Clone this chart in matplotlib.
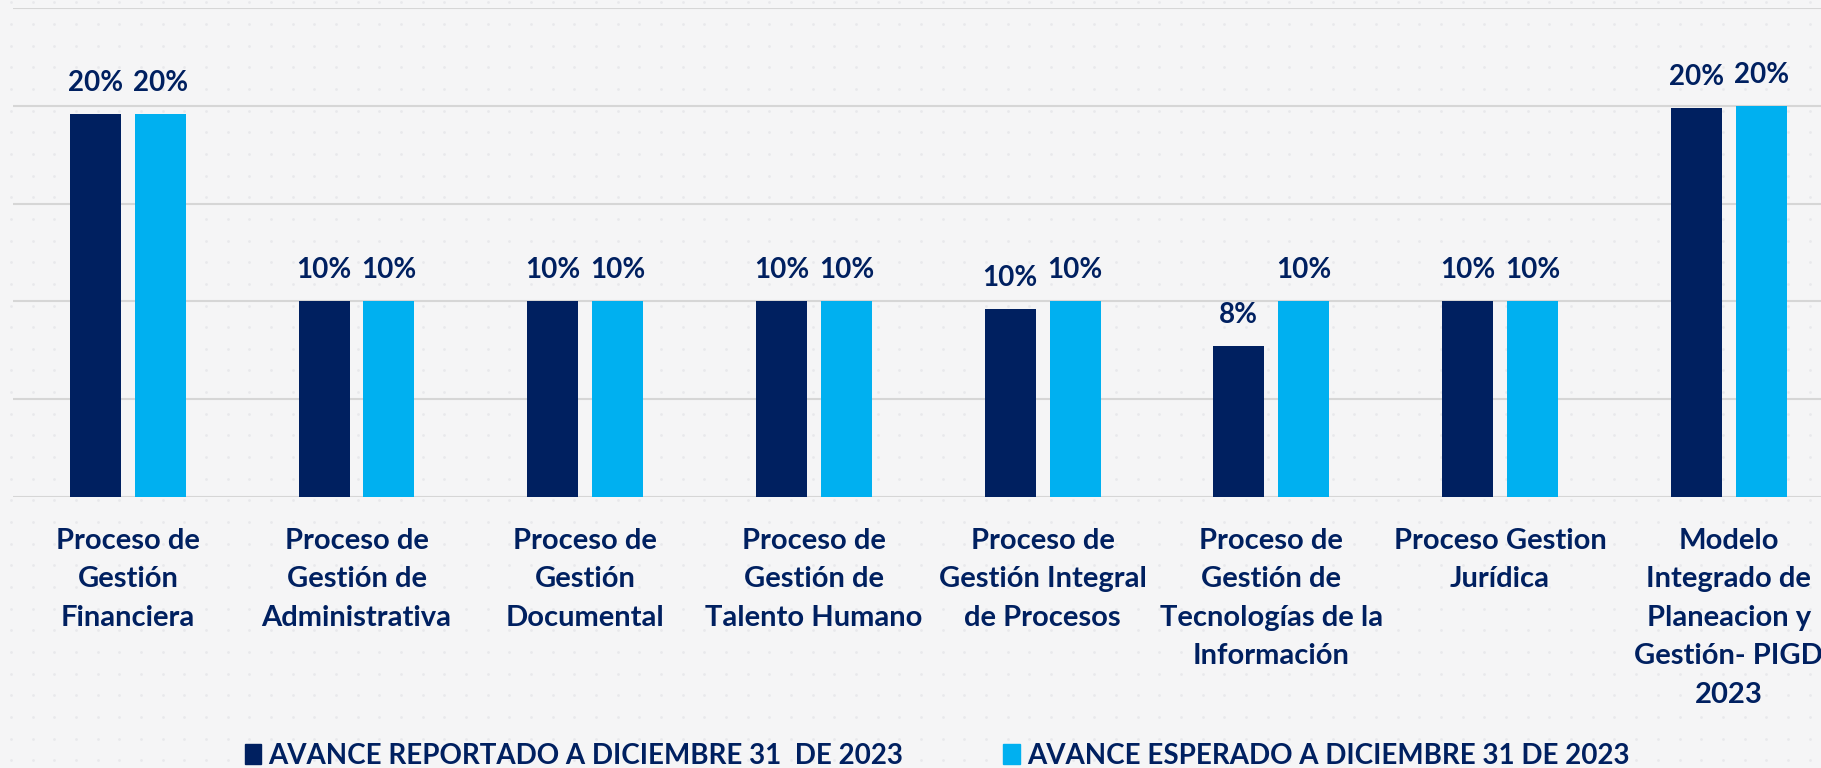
import matplotlib.pyplot as plt
import matplotlib.patches as mpatches
import numpy as np

plt.rcParams['font.family'] = ['Lato', 'DejaVu Sans']

categories = ['Proceso de\nGestión\nFinanciera',
              'Proceso de\nGestión de\nAdministrativa',
              'Proceso de\nGestión\nDocumental',
              'Proceso de\nGestión de\nTalento Humano',
              'Proceso de\nGestión Integral\nde Procesos',
              'Proceso de\nGestión de\nTecnologías de la\nInformación',
              'Proceso Gestion\nJurídica',
              'Modelo\nIntegrado de\nPlaneacion y\nGestión- PIGD\n2023']
reportado = [0.196, 0.10, 0.10, 0.10, 0.096, 0.077, 0.10, 0.199]
esperado = [0.196, 0.10, 0.10, 0.10, 0.10, 0.10, 0.10, 0.20]
series_names = ['AVANCE REPORTADO A DICIEMBRE 31  DE 2023',
                'AVANCE ESPERADO A DICIEMBRE 31 DE 2023']

navy = '#002060'
cyan = '#00B0F0'
bg = '#f5f5f6'

fig = plt.figure(figsize=(18.21, 7.68), dpi=100, facecolor=bg)

# faint dotted texture behind the chart
bgax = fig.add_axes([0, 0, 1, 1], zorder=-1)
bgax.set_axis_off()
gx, gy = np.meshgrid(np.arange(0.006, 1, 0.0119), np.arange(0.01, 1, 0.0282))
bgax.scatter(gx.ravel(), gy.ravel(), s=4, color='#dcdde2', alpha=0.5,
             linewidths=0)
bgax.set_xlim(0, 1)
bgax.set_ylim(0, 1)

ax = fig.add_axes([0.0074, 0.3529, 0.9926, 0.6367])
ax.set_facecolor('none')

x = np.arange(len(categories))
w = 0.223
off = 0.142
b1 = ax.bar(x - off, reportado, w, color=navy, zorder=3)
b2 = ax.bar(x + off, esperado, w, color=cyan, zorder=3)

for bars, vals in ((b1, reportado), (b2, esperado)):
    for rect, v in zip(bars, vals):
        ax.annotate(f'{v * 100:.0f}%', (rect.get_x() + rect.get_width() / 2, v),
                    xytext=(0, 13), textcoords='offset points',
                    ha='center', va='bottom', fontsize=20, fontweight='bold',
                    color=navy, zorder=4)

ax.set_xlim(-0.5, 7.404)
ax.set_ylim(0, 0.25)
ax.set_yticks(np.arange(0, 0.26, 0.05))
ax.yaxis.grid(True, color='#d6d6d6', linewidth=1.5, zorder=0)
ax.tick_params(axis='y', left=False, labelleft=False)
ax.tick_params(axis='x', length=0, pad=22)
ax.set_xticks(x)
ax.set_xticklabels(categories, fontsize=21, fontweight='bold', color=navy,
                   linespacing=1.6)
for s in ax.spines.values():
    s.set_visible(False)

handles = [mpatches.Patch(color=navy, label=series_names[0]),
           mpatches.Patch(color=cyan, label=series_names[1])]
leg = fig.legend(handles=handles, loc='center', bbox_to_anchor=(0.5146, 0.016),
                 ncol=2, frameon=False, fontsize=20, handlelength=0.6,
                 handleheight=0.75, handletextpad=0.25, columnspacing=3.6,
                 borderpad=0)
for t in leg.get_texts():
    t.set_color(navy)
    t.set_fontweight('bold')

fig.savefig('out.png', dpi=100, facecolor=bg)
